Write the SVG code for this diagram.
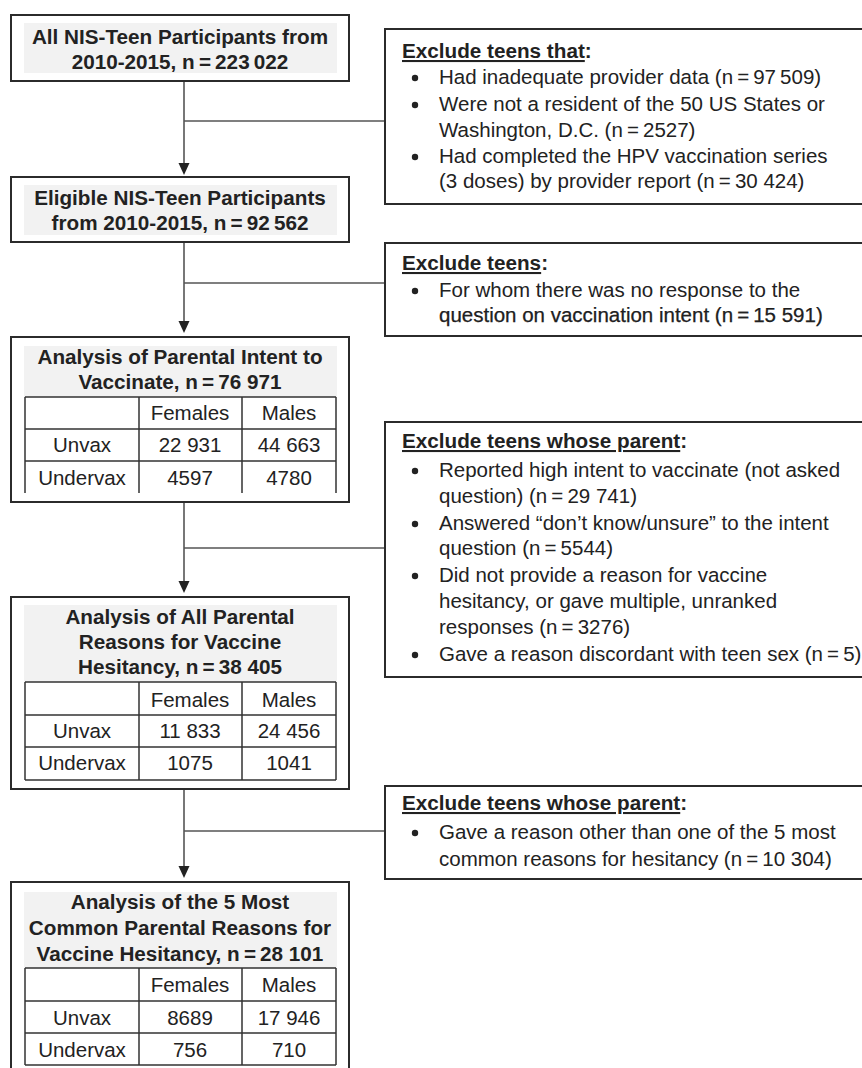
<svg xmlns="http://www.w3.org/2000/svg" width="862" height="1068" viewBox="0 0 862 1068">
<defs>
<style>
.box{fill:#fff;stroke:#2b2b2b;stroke-width:2}
.band{fill:#f2f2f2}
.ttl{font-family:"Liberation Sans",Arial,sans-serif;font-size:20.7px;font-weight:bold;fill:#222;text-anchor:middle}
.txt{font-family:"Liberation Sans",Arial,sans-serif;font-size:20.5px;fill:#222}
.hdr{font-family:"Liberation Sans",Arial,sans-serif;font-size:20.7px;font-weight:bold;fill:#222}
.cell{font-family:"Liberation Sans",Arial,sans-serif;font-size:20.5px;fill:#222;text-anchor:middle}
.grid{stroke:#333;stroke-width:1.5;fill:none}
.conn{stroke:#555;stroke-width:1.6;fill:none}
.ah{fill:#222}
.dot{fill:#222}
</style>
</defs>

<g id="connectors">
<line class="conn" x1="184" y1="81" x2="184" y2="164"/>
<line class="conn" x1="184" y1="121" x2="385" y2="121"/>
<polygon class="ah" points="178.5,163 189.5,163 184,175"/>
<line class="conn" x1="184" y1="242" x2="184" y2="322"/>
<line class="conn" x1="184" y1="283" x2="385" y2="283"/>
<polygon class="ah" points="178.5,321 189.5,321 184,333"/>
<line class="conn" x1="184" y1="502" x2="184" y2="582"/>
<line class="conn" x1="184" y1="548" x2="385" y2="548"/>
<polygon class="ah" points="178.5,581 189.5,581 184,593"/>
<line class="conn" x1="184" y1="789" x2="184" y2="867"/>
<line class="conn" x1="184" y1="831" x2="385" y2="831"/>
<polygon class="ah" points="178.5,866 189.5,866 184,878"/>
</g>

<g id="node-all">
<rect class="box" x="11" y="15" width="338" height="66"/>
<rect class="band" x="24" y="23" width="313" height="50"/>
<text class="ttl" x="180" y="44">All NIS-Teen Participants from</text>
<text class="ttl" x="180" y="69">2010-2015, n&#8201;=&#8201;223&#8201;022</text>
</g>

<g id="node-eligible">
<rect class="box" x="11" y="177" width="338" height="65"/>
<rect class="band" x="24" y="185" width="313" height="50"/>
<text class="ttl" x="180" y="205">Eligible NIS-Teen Participants</text>
<text class="ttl" x="180" y="230">from 2010-2015, n&#8201;=&#8201;92&#8201;562</text>
</g>

<g id="node-intent">
<rect class="box" x="11" y="337" width="338" height="165"/>
<rect class="band" x="24" y="346" width="313" height="51"/>
<text class="ttl" x="180" y="364">Analysis of Parental Intent to</text>
<text class="ttl" x="180" y="389">Vaccinate, n&#8201;=&#8201;76 971</text>
<path class="grid" d="M25,397H336M25,429H336M25,461H336M25,397V493M139,397V493M242,397V493M336,397V493"/>
<text class="cell" x="190" y="420">Females</text>
<text class="cell" x="289" y="420">Males</text>
<text class="cell" x="82" y="452">Unvax</text>
<text class="cell" x="190" y="452">22 931</text>
<text class="cell" x="289" y="452">44 663</text>
<text class="cell" x="82" y="485">Undervax</text>
<text class="cell" x="190" y="485">4597</text>
<text class="cell" x="289" y="485">4780</text>
</g>

<g id="node-reasons">
<rect class="box" x="11" y="597" width="338" height="192"/>
<rect class="band" x="24" y="605" width="313" height="77"/>
<text class="ttl" x="180" y="624">Analysis of All Parental</text>
<text class="ttl" x="180" y="649">Reasons for Vaccine</text>
<text class="ttl" x="180" y="674">Hesitancy, n&#8201;=&#8201;38 405</text>
<path class="grid" d="M25,682H336M25,715H336M25,747H336M25,780H336M25,682V780M139,682V780M242,682V780M336,682V780"/>
<text class="cell" x="190" y="707">Females</text>
<text class="cell" x="289" y="707">Males</text>
<text class="cell" x="82" y="738">Unvax</text>
<text class="cell" x="190" y="738">11 833</text>
<text class="cell" x="289" y="738">24 456</text>
<text class="cell" x="82" y="770">Undervax</text>
<text class="cell" x="190" y="770">1075</text>
<text class="cell" x="289" y="770">1041</text>
</g>

<g id="node-top5">
<rect class="box" x="11" y="882" width="338" height="200"/>
<rect class="band" x="24" y="892" width="313" height="76"/>
<text class="ttl" x="180" y="909">Analysis of the 5 Most</text>
<text class="ttl" x="180" y="935">Common Parental Reasons for</text>
<text class="ttl" x="180" y="961">Vaccine Hesitancy, n&#8201;=&#8201;28 101</text>
<path class="grid" d="M25,968H336M25,1001H336M25,1033H336M25,1065H336M25,968V1065M139,968V1065M242,968V1065M336,968V1065"/>
<text class="cell" x="190" y="992">Females</text>
<text class="cell" x="289" y="992">Males</text>
<text class="cell" x="82" y="1025">Unvax</text>
<text class="cell" x="190" y="1025">8689</text>
<text class="cell" x="289" y="1025">17 946</text>
<text class="cell" x="82" y="1057">Undervax</text>
<text class="cell" x="190" y="1057">756</text>
<text class="cell" x="289" y="1057">710</text>
</g>

<g id="excl-1">
<rect class="box" x="385" y="29" width="490" height="175"/>
<text class="hdr" x="402" y="58"><tspan text-decoration="underline">Exclude teens that</tspan>:</text>
<circle class="dot" cx="415" cy="78" r="3.2"/>
<text class="txt" x="439" y="84">Had inadequate provider data (n&#8201;=&#8201;97&#8201;509)</text>
<circle class="dot" cx="415" cy="105" r="3.2"/>
<text class="txt" x="439" y="111">Were not a resident of the 50 US States or</text>
<text class="txt" x="439" y="137">Washington, D.C. (n&#8201;=&#8201;2527)</text>
<circle class="dot" cx="415" cy="157" r="3.2"/>
<text class="txt" x="439" y="163">Had completed the HPV vaccination series</text>
<text class="txt" x="439" y="188">(3 doses) by provider report (n&#8201;=&#8201;30 424)</text>
</g>

<g id="excl-2">
<rect class="box" x="385" y="243" width="490" height="93"/>
<text class="hdr" x="402" y="270"><tspan text-decoration="underline">Exclude teens</tspan>:</text>
<circle class="dot" cx="415" cy="291" r="3.2"/>
<text class="txt" x="439" y="297">For whom there was no response to the</text>
<text class="txt" x="439" y="322" fill="#111" stroke="#111" stroke-width="0.25">question on vaccination intent (n&#8201;=&#8201;15 591)</text>
</g>

<g id="excl-3">
<rect class="box" x="385" y="422" width="490" height="255"/>
<text class="hdr" x="402" y="448"><tspan text-decoration="underline">Exclude teens whose parent</tspan>:</text>
<circle class="dot" cx="415" cy="471" r="3.2"/>
<text class="txt" x="439" y="477">Reported high intent to vaccinate (not asked</text>
<text class="txt" x="439" y="503">question) (n&#8201;=&#8201;29 741)</text>
<circle class="dot" cx="415" cy="524" r="3.2"/>
<text class="txt" x="439" y="530">Answered “don’t know/unsure” to the intent</text>
<text class="txt" x="439" y="555">question (n&#8201;=&#8201;5544)</text>
<circle class="dot" cx="415" cy="576" r="3.2"/>
<text class="txt" x="439" y="582">Did not provide a reason for vaccine</text>
<text class="txt" x="439" y="608">hesitancy, or gave multiple, unranked</text>
<text class="txt" x="439" y="634">responses (n&#8201;=&#8201;3276)</text>
<circle class="dot" cx="415" cy="655" r="3.2"/>
<text class="txt" x="439" y="661">Gave a reason discordant with teen sex (n&#8201;=&#8201;5)</text>
</g>

<g id="excl-4">
<rect class="box" x="385" y="786" width="490" height="93"/>
<text class="hdr" x="402" y="810"><tspan text-decoration="underline">Exclude teens whose parent</tspan>:</text>
<circle class="dot" cx="415" cy="833" r="3.2"/>
<text class="txt" x="439" y="839">Gave a reason other than one of the 5 most</text>
<text class="txt" x="439" y="866">common reasons for hesitancy (n&#8201;=&#8201;10 304)</text>
</g>
</svg>
